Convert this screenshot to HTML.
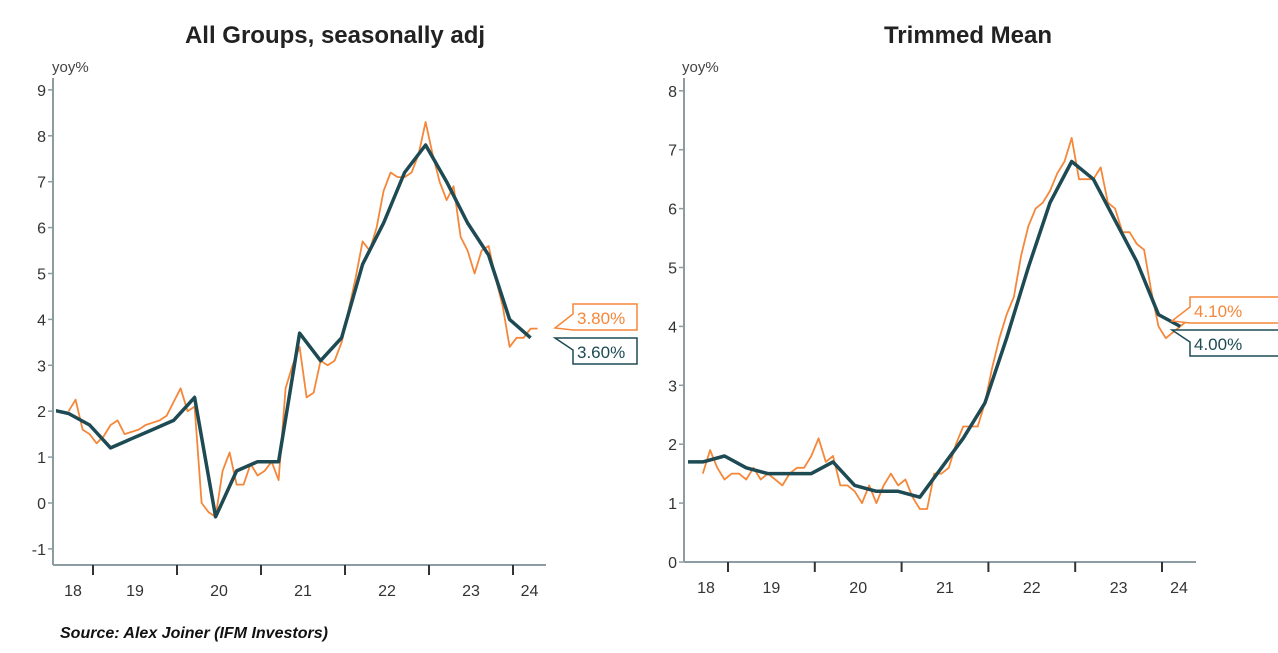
<!DOCTYPE html>
<html><head><meta charset="utf-8"><style>
body{margin:0;background:#fff;}
svg{display:block;font-family:"Liberation Sans",sans-serif;}
</style></head><body>
<svg id="s" width="1278" height="653" viewBox="0 0 1278 653">
<defs>
<clipPath id="clipL"><rect x="56" y="60" width="500" height="520"/></clipPath>
<clipPath id="clipR"><rect x="688" y="60" width="520" height="520"/></clipPath>
</defs>
<text x="335" y="43" text-anchor="middle" font-size="24" font-weight="bold" fill="#222">All Groups, seasonally adj</text>
<text x="968" y="43" text-anchor="middle" font-size="24" font-weight="bold" fill="#222">Trimmed Mean</text>
<text x="52" y="72" font-size="15" fill="#444">yoy%</text>
<text x="682" y="72" font-size="15" fill="#444">yoy%</text>
<text x="60" y="638" font-size="16" font-weight="bold" font-style="italic" fill="#111">Source: Alex Joiner (IFM Investors)</text>
<g id="L"></g>
<g id="R"></g>
</svg>
<script>
const yearLabels=["18","19","20","21","22","23","24"];
const leftYTicks=[-1,0,1,2,3,4,5,6,7,8,9];
const rightYTicks=[0,1,2,3,4,5,6,7,8];
const quarterStart=2018.46;
const monthStart=2018.71;
const leftDark=[2.05,1.95,1.7,1.2,1.4,1.6,1.8,2.3,-0.3,0.7,0.9,0.9,3.7,3.1,3.6,5.2,6.1,7.2,7.8,7.0,6.1,5.4,4.0,3.6];
const leftOrange=[2.0,2.25,1.6,1.5,1.3,1.45,1.7,1.8,1.5,1.55,1.6,1.7,1.75,1.8,1.9,2.2,2.5,2.0,2.1,0.0,-0.2,-0.3,0.7,1.1,0.4,0.4,0.85,0.6,0.7,0.9,0.5,2.5,3.0,3.4,2.3,2.4,3.1,3.0,3.1,3.5,4.2,4.9,5.7,5.5,6.0,6.8,7.2,7.1,7.1,7.2,7.6,8.3,7.6,7.0,6.6,6.9,5.8,5.5,5.0,5.5,5.6,4.9,4.3,3.4,3.6,3.6,3.8,3.8];
const rightDark=[1.7,1.7,1.8,1.6,1.5,1.5,1.5,1.7,1.3,1.2,1.2,1.1,1.6,2.1,2.7,3.8,5.0,6.1,6.8,6.5,5.8,5.1,4.2,4.0];
const rightOrange=[1.5,1.9,1.6,1.4,1.5,1.5,1.4,1.6,1.4,1.5,1.4,1.3,1.5,1.6,1.6,1.8,2.1,1.7,1.8,1.3,1.3,1.2,1.0,1.3,1.0,1.3,1.5,1.3,1.4,1.1,0.9,0.9,1.5,1.5,1.6,2.0,2.3,2.3,2.3,2.7,3.3,3.8,4.2,4.5,5.2,5.7,6.0,6.1,6.3,6.6,6.8,7.2,6.5,6.5,6.5,6.7,6.1,6.0,5.6,5.6,5.4,5.3,4.6,4.0,3.8,3.9,4.0,4.1];
const leftLabels=["3.80%","3.60%"];
const rightLabels=["4.10%","4.00%"];
const NS="http://www.w3.org/2000/svg";
const ORANGE="#f5873a",DARK="#1d4a53",AX="#8d9ca3";
function mk(p,tag,at){const e=document.createElementNS(NS,tag);for(const k in at)e.setAttribute(k,at[k]);p.appendChild(e);return e;}
function draw(g,cfg,yt,dark,orange,labels){
  const X=t=>cfg.x0+(t-2019)*cfg.px;
  const Y=v=>cfg.y0-v*cfg.py;
  let e=mk(g,'line',{x1:cfg.ax,y1:cfg.top,x2:cfg.ax,y2:cfg.base,stroke:AX,'stroke-width':2});
  
  e=mk(g,'line',{x1:cfg.ax,y1:cfg.base,x2:cfg.xend,y2:cfg.base,stroke:AX,'stroke-width':2});
  
  yt.forEach(v=>{
    mk(g,'line',{x1:cfg.ax-5,y1:Y(v),x2:cfg.ax,y2:Y(v),stroke:AX,'stroke-width':1.5});
    const t=mk(g,'text',{x:cfg.ax-7,y:Y(v)+6,'text-anchor':'end','font-size':16,fill:'#333'});
    t.textContent=v;
    
    
  });
  yearLabels.forEach((l,i)=>{
    const yr=2018+i;
    if(i>0) mk(g,'line',{x1:X(yr),y1:cfg.base,x2:X(yr),y2:cfg.base+10,stroke:'#333','stroke-width':2});
    let cx=i==0?(cfg.ax+X(2019))/2:(i==6?(X(2024)+cfg.xend)/2:X(yr+0.5));
    const t=mk(g,'text',{x:cx,y:cfg.base+31,'text-anchor':'middle','font-size':16,fill:'#333'});
    t.textContent=l;
    
    
  });
  const po=orange.map((v,i)=>X(monthStart+i/12).toFixed(1)+','+Y(v).toFixed(1)).join(' ');
  e=mk(g,'polyline',{points:po,fill:'none',stroke:ORANGE,'stroke-width':1.8,'stroke-linejoin':'round','clip-path':cfg.clip});
  
  const pd=dark.map((v,i)=>X(quarterStart+i/4).toFixed(1)+','+Y(v).toFixed(1)).join(' ');
  e=mk(g,'polyline',{points:pd,fill:'none',stroke:DARK,'stroke-width':3.5,'stroke-linejoin':'round','clip-path':cfg.clip});
  
  const bx=cfg.bx, bw=cfg.bw;
  [[labels[0],ORANGE,cfg.oy],[labels[1],DARK,cfg.dy]].forEach(([txt,c,by],k)=>{
    const tip=bx-18;
    const path=k==0?`M${tip},${by+20} L${bx},${by+6} L${bx},${by-4} L${bx+bw},${by-4} L${bx+bw},${by+22} L${bx},${by+22} Z`
                   :`M${tip},${by-4} L${bx},${by+8} L${bx},${by+22} L${bx+bw},${by+22} L${bx+bw},${by-4} L${bx},${by-4} Z`;
    const p=mk(g,'path',{d:path,fill:'#fff',stroke:c,'stroke-width':1.5});
    
    const t=mk(g,'text',{x:bx+4,y:by+16,'font-size':17,fill:c});
    t.textContent=txt;
    
    
  });
}
draw(document.getElementById('L'),{x0:93,px:84,y0:503,py:45.9,ax:53,top:78,base:565,xend:546,bx:573,bw:64,oy:308,dy:342,clip:'url(#clipL)'},leftYTicks,leftDark,leftOrange,leftLabels);
draw(document.getElementById('R'),{x0:728,px:86.8,y0:562,py:58.9,ax:684,top:78,base:562,xend:1196,bx:1190,bw:90,oy:301,dy:334,clip:'url(#clipR)'},rightYTicks,rightDark,rightOrange,rightLabels);
</script>
</body></html>
